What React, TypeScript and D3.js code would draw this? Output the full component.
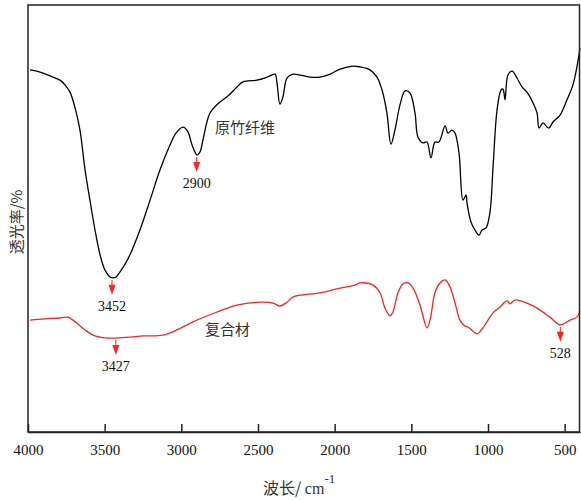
import React, { useEffect, useRef } from 'react';
import * as d3 from 'd3';

// wavenumber (cm-1) / transmittance (%)
const bambooWn = [3987, 3922, 3857, 3791, 3759, 3726, 3693, 3661, 3628, 3596, 3563, 3530, 3498, 3465, 3446, 3426, 3400, 3367, 3335, 3270, 3204, 3139, 3074, 3035, 2989, 2957, 2930, 2898, 2878, 2859, 2813, 2748, 2702, 2637, 2598, 2507, 2441, 2389, 2376, 2357, 2337, 2311, 2272, 2161, 2096, 2030, 1965, 1880, 1835, 1770, 1724, 1691, 1659, 1633, 1607, 1574, 1541, 1509, 1476, 1457, 1424, 1398, 1372, 1346, 1320, 1280, 1261, 1235, 1215, 1189, 1163, 1143, 1137, 1111, 1085, 1059, 1039, 1013, 987, 967, 941, 915, 902, 889, 870, 843, 811, 778, 746, 700, 680, 667, 641, 615, 602, 576, 530, 485, 446, 420, 400];
const bambooT = [84.8, 84.3, 83.4, 82.4, 81.3, 79.6, 75.9, 70.7, 61.4, 54.3, 47.3, 41.5, 37.9, 36.3, 36.1, 36.3, 37.5, 39.3, 41.5, 47.3, 54.3, 61.4, 67.2, 70.0, 71.4, 70.3, 67.2, 64.9, 65.6, 68.4, 74.7, 77.3, 78.5, 80.8, 82.0, 82.4, 83.1, 83.8, 81.7, 76.8, 78.5, 82.9, 83.8, 83.1, 83.1, 83.8, 85.0, 85.7, 85.5, 84.8, 83.1, 80.1, 74.7, 67.4, 70.7, 76.6, 79.9, 79.4, 74.7, 69.1, 67.7, 67.9, 64.2, 67.9, 67.9, 71.7, 70.0, 70.7, 70.0, 65.3, 54.3, 55.5, 53.6, 49.2, 47.3, 46.1, 47.3, 47.8, 51.5, 62.1, 75.4, 80.1, 80.3, 77.8, 83.6, 84.5, 82.9, 80.8, 79.6, 76.6, 74.7, 71.2, 72.4, 71.4, 71.2, 72.6, 74.2, 77.8, 81.3, 85.5, 89.9];

const compositeWn = [3987, 3889, 3791, 3740, 3707, 3674, 3628, 3576, 3485, 3426, 3335, 3250, 3120, 3028, 2924, 2767, 2637, 2487, 2402, 2357, 2311, 2272, 2096, 1965, 1867, 1835, 1750, 1704, 1672, 1639, 1620, 1587, 1554, 1522, 1489, 1443, 1398, 1378, 1346, 1313, 1280, 1248, 1215, 1183, 1150, 1130, 1072, 1033, 1000, 967, 922, 876, 857, 824, 746, 680, 596, 530, 465, 420, 400];
const compositeT = [26.2, 26.5, 26.7, 26.9, 26.2, 25.3, 23.9, 22.7, 22.0, 22.0, 22.2, 22.5, 22.7, 23.9, 25.8, 28.1, 29.7, 30.4, 30.2, 29.5, 30.4, 31.6, 32.6, 33.7, 34.4, 34.9, 34.4, 32.6, 29.0, 27.2, 28.1, 32.6, 34.7, 34.9, 33.7, 29.7, 24.4, 26.2, 32.6, 34.9, 35.6, 34.0, 30.2, 26.2, 24.8, 24.6, 23.0, 24.4, 26.2, 27.9, 29.3, 30.7, 30.0, 30.9, 30.2, 29.0, 26.9, 25.1, 26.2, 26.9, 28.3];

const xTicks = [4000, 3500, 3000, 2500, 2000, 1500, 1000, 500];

// marked absorption peaks
const peakWn = [3452, 2900, 3427, 528];
const peakT = [36.1, 64.9, 22.0, 25.1];
const peakLabels = ['3452', '2900', '3427', '528'];

// series names written next to the curves
const seriesNames = ['原竹纤维', '复合材'];
const seriesNameWn = [2780, 2846];
const seriesNameT = [71.2, 23.9];
const seriesColors = ['#000000', '#ff2020'];

const W = 581;
const H = 500;
const margin = { top: 5, right: 1, bottom: 68, left: 28 };
const serif = "'Liberation Serif', 'Times New Roman', serif";
const cjk = "'Noto Sans CJK SC', sans-serif";

export default function App() {
  const svgRef = useRef<SVGSVGElement>(null);

  useEffect(() => {
    const svg = d3.select(svgRef.current);
    svg.selectAll('*').remove();

    const x = d3.scaleLinear().domain([4000, 400]).range([margin.left, W - margin.right]);
    const y = d3.scaleLinear().domain([0, 100]).range([H - margin.bottom, margin.top]);

    const line = d3.line<[number, number]>()
      .x(d => x(d[0]))
      .y(d => y(d[1]))
      .curve(d3.curveCatmullRom.alpha(0.5));

    // curves
    const series = [
      d3.zip(bambooWn, bambooT) as [number, number][],
      d3.zip(compositeWn, compositeT) as [number, number][],
    ];
    series.forEach((s, i) => {
      svg.append('path')
        .datum(s)
        .attr('d', line)
        .attr('fill', 'none')
        .attr('stroke', seriesColors[i])
        .attr('stroke-width', 1.3)
        .attr('stroke-linejoin', 'round');
    });

    // frame
    svg.append('rect')
      .attr('x', margin.left)
      .attr('y', margin.top)
      .attr('width', W - margin.left - margin.right - 0.5)
      .attr('height', H - margin.top - margin.bottom)
      .attr('fill', 'none')
      .attr('stroke', '#222')
      .attr('stroke-width', 1.5);

    // bottom axis, ticks pointing inward
    const xAxis = svg.append('g')
      .attr('transform', `translate(0,${H - margin.bottom})`)
      .call(d3.axisBottom(x)
        .tickValues(xTicks)
        .tickSizeInner(-8)
        .tickSizeOuter(0)
        .tickPadding(12)
        .tickFormat(d => String(d)));
    xAxis.attr('font-family', serif).attr('font-size', 15);
    xAxis.select('.domain').attr('stroke', '#222').attr('stroke-width', 1.5);
    xAxis.selectAll('line').attr('stroke', '#222').attr('stroke-width', 1.5);
    xAxis.selectAll('text')
      .style('font-family', serif)
      .style('font-size', '15px')
      .attr('fill', '#111');

    // peak markers
    peakWn.forEach((wn, i) => {
      const px = x(wn);
      const py = y(peakT[i]);
      svg.append('line')
        .attr('x1', px).attr('x2', px)
        .attr('y1', py + 2).attr('y2', py + 10)
        .attr('stroke', '#ff2020')
        .attr('stroke-width', 1);
      svg.append('path')
        .attr('d', `M${px - 3.5},${py + 7}L${px + 3.5},${py + 7}L${px},${py + 17}Z`)
        .attr('fill', '#ff2020');
      svg.append('text')
        .attr('x', px)
        .attr('y', py + 28)
        .attr('dy', '0.35em')
        .attr('text-anchor', 'middle')
        .style('font-family', serif)
        .style('font-size', '14px')
        .attr('fill', '#111')
        .text(peakLabels[i]);
    });

    // series names
    seriesNames.forEach((name, i) => {
      svg.append('text')
        .attr('x', x(seriesNameWn[i]))
        .attr('y', y(seriesNameT[i]))
        .attr('dy', '0.35em')
        .style('font-family', cjk)
        .style('font-size', '15px')
        .attr('fill', '#333')
        .text(name);
    });

    // axis titles
    const xt = svg.append('text')
      .attr('x', 263)
      .attr('y', 494)
      .style('font-family', cjk)
      .style('font-size', '16px')
      .attr('fill', '#333');
    xt.append('tspan').text('波长/ ');
    xt.append('tspan').style('font-family', serif).text('cm');
    xt.append('tspan')
      .style('font-family', serif)
      .style('font-size', '13px')
      .attr('dy', -11)
      .text('-1');

    svg.append('text')
      .attr('transform', 'translate(17,222) rotate(-90)')
      .attr('text-anchor', 'middle')
      .attr('dy', '0.35em')
      .style('font-family', cjk)
      .style('font-size', '15px')
      .attr('fill', '#333')
      .text('透光率/%');
  }, []);

  return (
    <svg
      ref={svgRef}
      width={W}
      height={H}
      style={{ position: 'absolute', left: 0, top: 0, background: '#fff' }}
    />
  );
}
